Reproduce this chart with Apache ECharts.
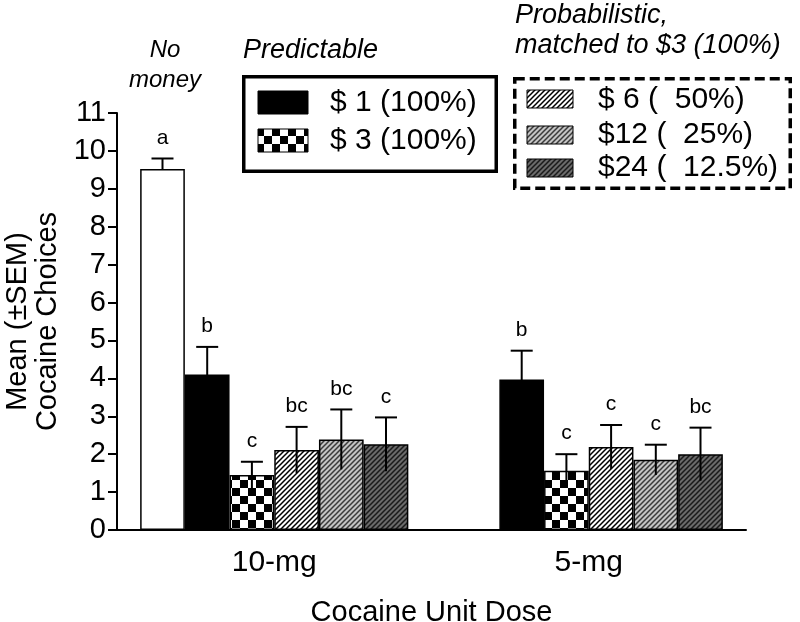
<!DOCTYPE html>
<html><head><meta charset="utf-8">
<script src="https://cdn.jsdelivr.net/npm/echarts@6/dist/echarts.min.js"></script>
<style>html,body{margin:0;padding:0;background:#fff}#c{width:800px;height:622px}</style>
</head><body><div id="c"></div>
<script>
// ---- data ----
const categories = ['10-mg', '5-mg'];
const seriesNames = ['No money', '$ 1 (100%)', '$ 3 (100%)', '$ 6 (  50%)', '$12 (  25%)', '$24 (  12.5%)'];
const noMoney = [9.52, null];
const pred1 = [4.10, 3.97];
const pred3 = [1.45, 1.56];
const prob6 = [2.11, 2.19];
const prob12 = [2.39, 1.85];
const prob24 = [2.26, 2.00];
const semNoMoney = [0.28, null];
const sem1 = [0.73, 0.76];
const sem3 = [0.35, 0.44];
const sem6 = [0.61, 0.58];
const sem12 = [0.79, 0.40];
const sem24 = [0.71, 0.70];
const lettersNoMoney = ['a', ''];
const letters1 = ['b', 'b'];
const letters3 = ['c', 'c'];
const letters6 = ['bc', 'c'];
const letters12 = ['bc', 'c'];
const letters24 = ['c', 'bc'];
const yTicks = [0, 11, 1];

// ---- styles ----
const FONT = "'Liberation Sans', Arial, Helvetica, sans-serif";
const BW = 44.7;

function hatch(bg, fg) {
  const c = document.createElement('canvas');
  c.width = 5; c.height = 5;
  const g = c.getContext('2d');
  g.fillStyle = bg; g.fillRect(0, 0, 5, 5);
  g.strokeStyle = fg; g.lineWidth = 1.5;
  g.beginPath();
  g.moveTo(-1, 6); g.lineTo(6, -1);
  g.moveTo(-1, 1); g.lineTo(1, -1);
  g.moveTo(4, 6); g.lineTo(6, 4);
  g.stroke();
  return c;
}
function checker() {
  const c = document.createElement('canvas');
  c.width = 16; c.height = 16;
  const g = c.getContext('2d');
  g.fillStyle = '#fff'; g.fillRect(0, 0, 16, 16);
  g.fillStyle = '#000'; g.fillRect(0, 0, 8, 8); g.fillRect(8, 8, 8, 8);
  return c;
}
const fills = [
  '#ffffff',
  '#000000',
  { image: checker(), repeat: 'repeat' },
  { image: hatch('#ffffff', '#000000'), repeat: 'repeat' },
  { image: hatch('#c4c4c4', '#3a3a3a'), repeat: 'repeat' },
  { image: hatch('#6a6a6a', '#1a1a1a'), repeat: 'repeat' }
];

const values = [noMoney, pred1, pred3, prob6, prob12, prob24];
const sems = [semNoMoney, sem1, sem3, sem6, sem12, sem24];
const letters = [lettersNoMoney, letters1, letters3, letters6, letters12, letters24];

const barSeries = values.map((v, i) => ({
  name: seriesNames[i], type: 'bar', data: v, barWidth: BW, barGap: '0%',
  itemStyle: { color: fills[i], borderColor: '#000', borderWidth: 1.5 },
  emphasis: { disabled: true }, z: 2, silent: true
}));

const errSeries = values.map((v, si) => ({
  type: 'custom', z: 10, silent: true,
  encode: { x: 0, y: 1 },
  data: v.map((val, ci) => val == null ? null : [ci, val, sems[si][ci]]).filter(d => d),
  renderItem: (params, api) => {
    const ci = api.value(0), val = api.value(1), s = api.value(2);
    const base = api.coord([ci, val]);
    const x = base[0] + (si - 2.5) * BW;
    const yT = api.coord([ci, val + s])[1];
    const yB = si === 0 ? base[1] : api.coord([ci, val - s])[1];
    const st = { stroke: '#000', lineWidth: 2 };
    return {
      type: 'group', children: [
        { type: 'line', shape: { x1: x, y1: yB, x2: x, y2: yT }, style: st },
        { type: 'line', shape: { x1: x - 11, y1: yT, x2: x + 11, y2: yT }, style: st },
        { type: 'text', x: x, y: yT - 10, style: { text: letters[si][ci], fill: '#000', font: '21px ' + FONT, align: 'center', verticalAlign: 'bottom' } }
      ]
    };
  }
}));

function legendSwatch(x, y, w, h, fill) {
  return { type: 'rect', shape: { x: x, y: y, width: w, height: h }, style: { fill: fill, stroke: '#000', lineWidth: 1 }, z: 20 };
}
function legendText(x, y, t, size, italic) {
  return { type: 'text', x: x, y: y, z: 20, style: { text: t, fill: '#000', font: (italic ? 'italic ' : '') + size + 'px ' + FONT, align: 'left', verticalAlign: 'middle' } };
}

const graphic = [
  { type: 'text', x: 165, y: 65, z: 20, style: { text: 'No\nmoney', fill: '#000', font: 'italic 24px ' + FONT, lineHeight: 30, align: 'center', verticalAlign: 'middle' } },
  legendText(243, 50, 'Predictable', 27, true),
  { type: 'rect', z: 19, shape: { x: 243.75, y: 76.75, width: 252.5, height: 94.5 }, style: { fill: '#fff', stroke: '#000', lineWidth: 3.5 } },
  legendSwatch(258, 91, 50, 23, fills[1]),
  legendSwatch(258, 129, 50, 23, fills[2]),
  legendText(330, 103, seriesNames[1], 30),
  legendText(330, 141, seriesNames[2], 30),
  legendText(515, 15, 'Probabilistic,', 27, true),
  legendText(515, 45, 'matched to $3 (100%)', 27, true),
  { type: 'rect', z: 19, shape: { x: 514.75, y: 78.75, width: 275.5, height: 109.5 }, style: { fill: '#fff', stroke: '#000', lineWidth: 3.5, lineDash: [10, 5] } },
  legendSwatch(527, 90, 46, 18, fills[3]),
  legendSwatch(527, 126, 46, 18, fills[4]),
  legendSwatch(527, 159, 46, 18, fills[5]),
  legendText(598, 100, seriesNames[3], 30),
  legendText(598, 135, seriesNames[4], 30),
  legendText(598, 168, seriesNames[5], 30)
];

const chart = echarts.init(document.getElementById('c'), null, { renderer: 'canvas' });
chart.setOption({
  animation: false,
  backgroundColor: '#fff',
  textStyle: { fontFamily: FONT, color: '#000' },
  grid: { left: 117, right: 54, top: 113, bottom: 92, containLabel: false, outerBoundsMode: 'none' },
  xAxis: {
    type: 'category', data: categories,
    axisLine: { lineStyle: { color: '#000', width: 2 } },
    axisTick: { alignWithLabel: true, length: 11, lineStyle: { color: '#000', width: 2 } },
    axisLabel: { fontSize: 30, color: '#000', margin: 18, fontFamily: FONT },
    name: 'Cocaine Unit Dose', nameLocation: 'middle', nameGap: 68,
    nameTextStyle: { fontSize: 29, color: '#000', fontFamily: FONT }
  },
  yAxis: {
    type: 'value', min: yTicks[0], max: yTicks[1], interval: yTicks[2],
    axisLine: { show: true, lineStyle: { color: '#000', width: 2 } },
    axisTick: { show: true, length: 9, lineStyle: { color: '#000', width: 2 } },
    axisLabel: { fontSize: 29, color: '#000', margin: 11, fontFamily: FONT },
    splitLine: { show: false },
    name: 'Mean (±SEM)\nCocaine Choices', nameLocation: 'middle', nameGap: 53, nameRotate: 90,
    nameTextStyle: { fontSize: 29, lineHeight: 30, color: '#000', fontFamily: FONT }
  },
  series: barSeries.concat(errSeries),
  graphic: graphic
});
</script></body></html>
